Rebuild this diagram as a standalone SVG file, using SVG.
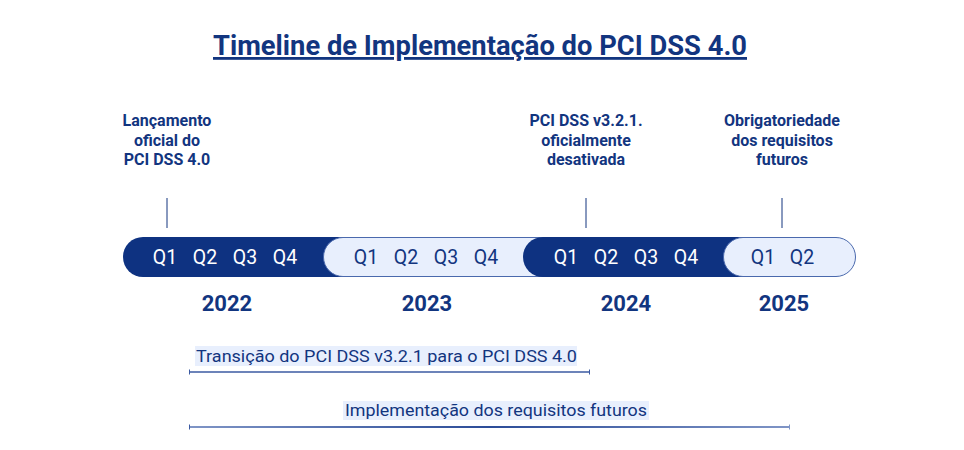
<svg xmlns="http://www.w3.org/2000/svg" width="964" height="450" viewBox="0 0 964 450">
<defs>
<style>
.title{font-family:Roboto,"Liberation Sans",sans-serif;font-weight:700;font-size:28px;fill:#12357f;text-decoration:underline}
.lbl{font-family:Roboto,"Liberation Sans",sans-serif;font-weight:700;font-size:16px;fill:#12357f;text-anchor:middle}
.q{font-family:Roboto,"Liberation Sans",sans-serif;font-size:19.5px;text-anchor:middle;dominant-baseline:central}
.qd{fill:#ffffff}
.ql{fill:#12357f}
.yr{font-family:Roboto,"Liberation Sans",sans-serif;font-weight:700;font-size:22px;fill:#12357f;text-anchor:middle}
.dark{fill:#0e3281}
.light{fill:#e8effd;stroke:#4a69ad;stroke-width:1}
.tick{stroke:#12357f;stroke-width:1}
.span{font-family:Roboto,"Liberation Sans",sans-serif;font-size:16px;fill:#12357f}
.spanbg{fill:#e8effd}
</style>
<linearGradient id="g2" gradientUnits="userSpaceOnUse" x1="189" y1="0" x2="790" y2="0">
<stop offset="0" stop-color="#7f95c6"/>
<stop offset="0.5" stop-color="#2c4c98"/>
<stop offset="1" stop-color="#7f95c6"/>
</linearGradient>
</defs>
<rect width="964" height="450" fill="#ffffff"/>
<g id="title">
<text class="title" x="213" y="55" textLength="534" lengthAdjust="spacingAndGlyphs">Timeline de Implementação do PCI DSS 4.0</text>
</g>
<g id="connectors">
<line class="tick" x1="167" y1="198" x2="167" y2="228"/>
<line class="tick" x1="586" y1="198" x2="586" y2="228"/>
<line class="tick" x1="782" y1="198" x2="782" y2="228"/>
<line x1="189" y1="372" x2="590" y2="372" stroke="#3b5aa2" stroke-width="1.3"/>
<line x1="189.5" y1="369.5" x2="189.5" y2="374.5" stroke="#3b5aa2" stroke-width="1"/>
<line x1="589.5" y1="369.5" x2="589.5" y2="374.5" stroke="#3b5aa2" stroke-width="1"/>
<line x1="189" y1="427" x2="790" y2="427" stroke="url(#g2)" stroke-width="2"/>
<line x1="189.5" y1="424.5" x2="189.5" y2="429.5" stroke="#3b5aa2" stroke-width="1"/>
<line x1="789.5" y1="424.5" x2="789.5" y2="429.5" stroke="#7f95c6" stroke-width="1"/>
</g>
<g id="milestone-launch">
<text class="lbl" x="167" y="126">Lançamento</text>
<text class="lbl" x="167" y="146">oficial do</text>
<text class="lbl" x="167" y="165">PCI DSS 4.0</text>
</g>
<g id="milestone-retire">
<text class="lbl" x="586" y="126">PCI DSS v3.2.1.</text>
<text class="lbl" x="586" y="146">oficialmente</text>
<text class="lbl" x="586" y="165">desativada</text>
</g>
<g id="milestone-mandatory">
<text class="lbl" x="782" y="126">Obrigatoriedade</text>
<text class="lbl" x="782" y="146">dos requisitos</text>
<text class="lbl" x="782" y="165">futuros</text>
</g>
<g id="year-2022">
<rect class="dark" x="123" y="237" width="240" height="40" rx="20"/>
<text class="q qd" x="165" y="257">Q1</text>
<text class="q qd" x="205" y="257">Q2</text>
<text class="q qd" x="245" y="257">Q3</text>
<text class="q qd" x="285" y="257">Q4</text>
<text class="yr" x="227" y="311">2022</text>
</g>
<g id="year-2023">
<rect class="light" x="323.5" y="237.5" width="240" height="39" rx="19.5"/>
<text class="q ql" x="366" y="257">Q1</text>
<text class="q ql" x="406" y="257">Q2</text>
<text class="q ql" x="446" y="257">Q3</text>
<text class="q ql" x="486" y="257">Q4</text>
<text class="yr" x="427" y="311">2023</text>
</g>
<g id="year-2024">
<rect class="dark" x="523" y="237" width="240" height="40" rx="20"/>
<text class="q qd" x="566" y="257">Q1</text>
<text class="q qd" x="606" y="257">Q2</text>
<text class="q qd" x="646" y="257">Q3</text>
<text class="q qd" x="686" y="257">Q4</text>
<text class="yr" x="626" y="311">2024</text>
</g>
<g id="year-2025">
<rect class="light" x="723.5" y="237.5" width="132" height="39" rx="19.5"/>
<text class="q ql" x="763" y="257">Q1</text>
<text class="q ql" x="802" y="257">Q2</text>
<text class="yr" x="784" y="311">2025</text>
</g>
<g id="span-transition">
<rect class="spanbg" x="195" y="346" width="382" height="20"/>
<text class="span" x="196" y="362" textLength="381" lengthAdjust="spacingAndGlyphs">Transição do PCI DSS v3.2.1 para o PCI DSS 4.0</text>
</g>
<g id="span-implementation">
<rect class="spanbg" x="343" y="401" width="306" height="19"/>
<text class="span" x="345" y="416" textLength="302" lengthAdjust="spacingAndGlyphs">Implementação dos requisitos futuros</text>
</g>
</svg>
